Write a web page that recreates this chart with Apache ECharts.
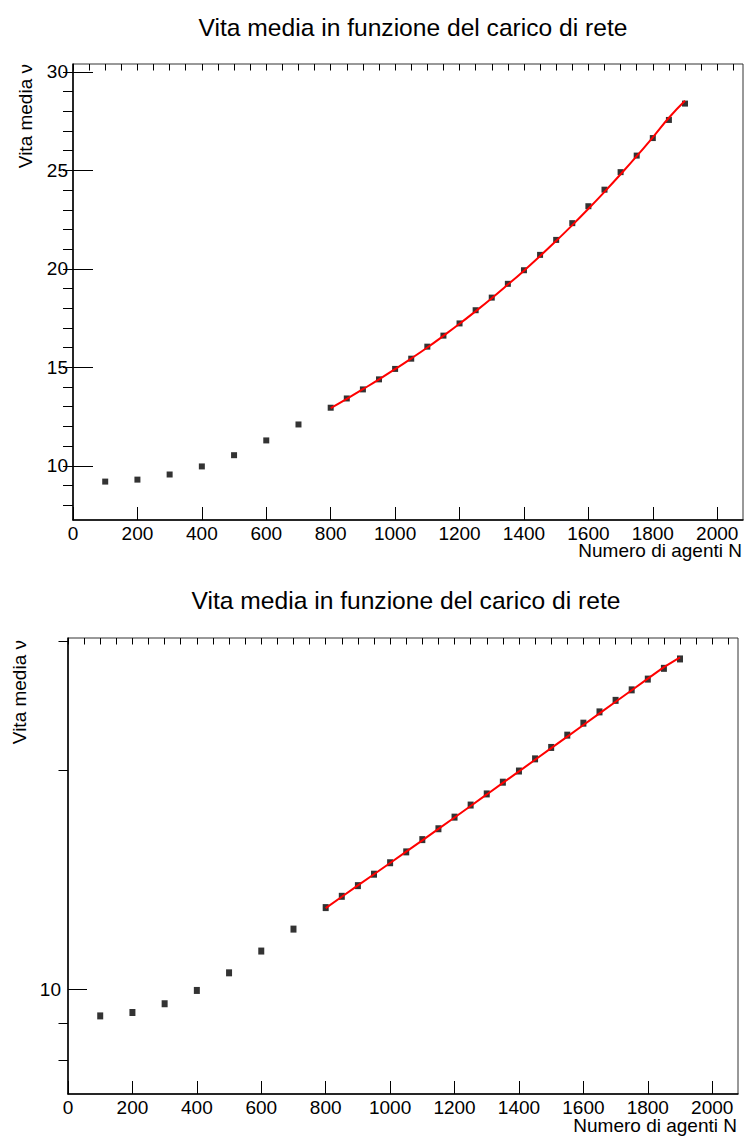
<!DOCTYPE html>
<html>
<head>
<meta charset="utf-8">
<script src="https://cdn.jsdelivr.net/npm/echarts@6/dist/echarts.min.js"></script>
<style>
html,body{margin:0;padding:0;background:#fff;}
#chart{width:746px;height:1138px;}
</style>
</head>
<body>
<div id="chart"></div>
<script>
// ---- data ----
var agents = [100, 200, 300, 400, 500, 600, 700, 800, 850, 900, 950, 1000, 1050, 1100, 1150,
  1200, 1250, 1300, 1350, 1400, 1450, 1500, 1550, 1600, 1650, 1700, 1750, 1800, 1850, 1900];
var vitaMedia = [9.20, 9.30, 9.56, 9.97, 10.54, 11.29, 12.10, 12.95, 13.42, 13.88, 14.39, 14.92,
  15.44, 16.05, 16.61, 17.23, 17.90, 18.54, 19.24, 19.93, 20.71, 21.47, 22.32, 23.18, 24.02,
  24.91, 25.75, 26.64, 27.56, 28.39];
var fitN = [800, 850, 900, 950, 1000, 1050, 1100, 1150, 1200, 1250, 1300, 1350, 1400, 1450,
  1500, 1550, 1600, 1650, 1700, 1750, 1800, 1850, 1900];
var fitVita = [12.93, 13.40, 13.89, 14.39, 14.91, 15.45, 16.01, 16.60, 17.21, 17.85, 18.51,
  19.20, 19.91, 20.65, 21.42, 22.22, 23.05, 23.91, 24.80, 25.72, 26.68, 27.67, 28.53];

var titleText = 'Vita media in funzione del carico di rete';
var xTitle = 'Numero di agenti N';
var yTitle = 'Vita media \u03bd';

var xMajorTicks = [0, 200, 400, 600, 800, 1000, 1200, 1400, 1600, 1800, 2000];
var xMinorTicks = [0, 50, 100, 150, 200, 250, 300, 350, 400, 450, 500, 550, 600, 650, 700, 750,
  800, 850, 900, 950, 1000, 1050, 1100, 1150, 1200, 1250, 1300, 1350, 1400, 1450, 1500, 1550,
  1600, 1650, 1700, 1750, 1800, 1850, 1900, 1950, 2000, 2050];
var yLinMajorTicks = [10, 15, 20, 25, 30];
var yLinMinorTicks = [8, 9, 10, 11, 12, 13, 14, 15, 16, 17, 18, 19, 20, 21, 22, 23, 24, 25, 26,
  27, 28, 29, 30];
var yLogMajorTicks = [10];
var yLogMinorTicks = [8, 9, 20, 30];

var xRange = [0, 2080];
var yLinRange = [7.25, 30.4];
var yLogRange = [7.19, 30.33];

// ---- chart ----
var FONT = '"Liberation Sans", Arial, Helvetica, sans-serif';
var chart = echarts.init(document.getElementById('chart'), null, {renderer: 'svg'});
var plain = function (v) { return String(v); };

function xAxisPair(gi) {
  return [{
    type: 'value', gridIndex: gi, min: xRange[0], max: xRange[1],
    axisLine: {show: true, lineStyle: {color: '#000', width: 1.5}},
    axisTick: {show: true, inside: true, length: 13, customValues: xMajorTicks,
      lineStyle: {color: '#000', width: 1}},
    axisLabel: {show: true, customValues: xMajorTicks, margin: 4, fontSize: 19,
      fontFamily: FONT, color: '#000', formatter: plain},
    splitLine: {show: false}
  }, {
    type: 'value', gridIndex: gi, min: xRange[0], max: xRange[1],
    axisLine: {show: false},
    axisTick: {show: true, inside: true, length: 6.5, customValues: xMinorTicks,
      lineStyle: {color: '#000', width: 1}},
    axisLabel: {show: false},
    splitLine: {show: false}
  }];
}

var option = {
  backgroundColor: '#fff',
  animation: false,
  title: [{
    text: titleText, left: 408, top: 10, textAlign: 'center',
    textStyle: {fontSize: 24.6, fontWeight: 'normal', fontFamily: FONT, color: '#000'}
  }, {
    text: titleText, left: 401, top: 583, textAlign: 'center',
    textStyle: {fontSize: 24.6, fontWeight: 'normal', fontFamily: FONT, color: '#000'}
  }],
  grid: [
    {left: 73, top: 64, width: 670, height: 456, show: true, borderColor: '#333', borderWidth: 1},
    {left: 68, top: 638, width: 670, height: 456, show: true, borderColor: '#333', borderWidth: 1}
  ],
  xAxis: xAxisPair(0).concat(xAxisPair(1)),
  yAxis: [{
    type: 'value', gridIndex: 0, min: yLinRange[0], max: yLinRange[1],
    axisLine: {show: true, lineStyle: {color: '#000', width: 1.5}},
    axisTick: {show: true, inside: true, length: 20, customValues: yLinMajorTicks,
      lineStyle: {color: '#000', width: 1}},
    axisLabel: {show: true, customValues: yLinMajorTicks, margin: 5, fontSize: 19,
      fontFamily: FONT, color: '#000', formatter: plain},
    splitLine: {show: false}
  }, {
    type: 'value', gridIndex: 0, min: yLinRange[0], max: yLinRange[1],
    axisLine: {show: false},
    axisTick: {show: true, inside: true, length: 10, customValues: yLinMinorTicks,
      lineStyle: {color: '#000', width: 1}},
    axisLabel: {show: false},
    splitLine: {show: false}
  }, {
    type: 'log', logBase: 10, gridIndex: 1, min: yLogRange[0], max: yLogRange[1],
    axisLine: {show: true, lineStyle: {color: '#000', width: 1.5}},
    axisTick: {show: true, inside: true, length: 19, customValues: yLogMajorTicks,
      lineStyle: {color: '#000', width: 1}},
    axisLabel: {show: true, customValues: yLogMajorTicks, margin: 7, fontSize: 19,
      fontFamily: FONT, color: '#000', formatter: plain},
    splitLine: {show: false}
  }, {
    type: 'log', logBase: 10, gridIndex: 1, min: yLogRange[0], max: yLogRange[1],
    axisLine: {show: false},
    axisTick: {show: true, inside: true, length: 9.5, customValues: yLogMinorTicks,
      lineStyle: {color: '#000', width: 1}},
    axisLabel: {show: false},
    splitLine: {show: false}
  }],
  graphic: [
    {type: 'text', x: 742, y: 550, style: {text: xTitle, font: '19px ' + FONT, fill: '#000',
      textAlign: 'right', textVerticalAlign: 'middle'}},
    {type: 'text', x: 737, y: 1125, style: {text: xTitle, font: '19px ' + FONT, fill: '#000',
      textAlign: 'right', textVerticalAlign: 'middle'}},
    {type: 'text', x: 25, y: 64, rotation: Math.PI / 2, style: {text: yTitle, font: '19px ' + FONT,
      fill: '#000', textAlign: 'right', textVerticalAlign: 'middle'}},
    {type: 'text', x: 19, y: 640, rotation: Math.PI / 2, style: {text: yTitle, font: '19px ' + FONT,
      fill: '#000', textAlign: 'right', textVerticalAlign: 'middle'}}
  ],
  series: [{
    type: 'scatter', xAxisIndex: 0, yAxisIndex: 0, symbol: 'rect', symbolSize: 6,
    itemStyle: {color: '#000'}, z: 2,
    data: agents.map(function (n, i) { return [n, vitaMedia[i]]; })
  }, {
    type: 'line', xAxisIndex: 0, yAxisIndex: 0, smooth: true, showSymbol: false,
    lineStyle: {color: '#ff0000', width: 2}, z: 3,
    data: fitN.map(function (n, i) { return [n, fitVita[i]]; })
  }, {
    type: 'scatter', xAxisIndex: 2, yAxisIndex: 2, symbol: 'rect', symbolSize: [6, 7],
    itemStyle: {color: '#000'}, z: 2,
    data: agents.map(function (n, i) { return [n, vitaMedia[i]]; })
  }, {
    type: 'line', xAxisIndex: 2, yAxisIndex: 2, showSymbol: false,
    lineStyle: {color: '#ff0000', width: 2}, z: 3,
    data: fitN.map(function (n, i) { return [n, fitVita[i]]; })
  }]
};
chart.setOption(option);
</script>
</body>
</html>
